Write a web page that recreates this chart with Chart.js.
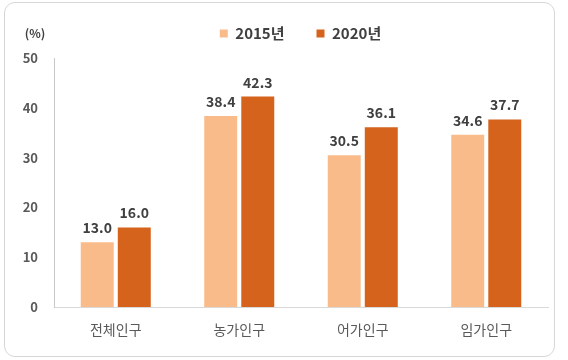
<!DOCTYPE html>
<html>
<head>
<meta charset="utf-8">
<script src="https://cdn.jsdelivr.net/npm/chart.js@4/dist/chart.umd.min.js"></script>
<style>
  html, body { margin: 0; padding: 0; background: #ffffff; }
  #wrap { position: relative; width: 568px; height: 360px; }
  #frame { position: absolute; left: 4px; top: 2px; width: 549px; height: 353px;
           border: 1.5px solid #d6d6d6; border-radius: 11px; box-sizing: content-box; pointer-events: none; }
  canvas { position: absolute; left: 0; top: 0; }
</style>
</head>
<body>
<div id="wrap">
  <canvas id="c" width="568" height="360"></canvas>
  <div id="frame"></div>
</div>
<script>
const categories = ['전체인구', '농가인구', '어가인구', '임가인구'];
const seriesNames = ['2015년', '2020년'];
const values2015 = [13.0, 38.4, 30.5, 34.6];
const values2020 = [16.0, 42.3, 36.1, 37.7];
const yTicks = [0, 10, 20, 30, 40, 50];
const unitLabel = '(%)';

const FONT = "'Noto Sans CJK KR', 'Noto Sans', sans-serif";

const valueLabels = {
  id: 'valueLabels',
  afterDatasetsDraw(chart) {
    const ctx = chart.ctx;
    ctx.save();
    ctx.font = 'bold 14px ' + FONT;
    ctx.fillStyle = '#404040';
    ctx.textAlign = 'center';
    ctx.textBaseline = 'alphabetic';
    chart.data.datasets.forEach((ds, i) => {
      const meta = chart.getDatasetMeta(i);
      meta.data.forEach((bar, j) => {
        ctx.fillText(ds.data[j].toFixed(1), bar.x, bar.y - 9);
      });
    });
    ctx.restore();
  }
};

const unitText = {
  id: 'unitText',
  afterDraw(chart) {
    const ctx = chart.ctx;
    ctx.save();
    ctx.font = 'bold 12px ' + FONT;
    ctx.fillStyle = '#404040';
    ctx.textAlign = 'center';
    ctx.textBaseline = 'middle';
    ctx.fillText(unitLabel, 35, 33);
    ctx.restore();
  }
};

// centre the legend over the same span as the reference
const legendShift = {
  id: 'legendShift',
  afterLayout(chart) {
    if (chart.legend) { chart.legend.left = 53; }
  }
};

new Chart(document.getElementById('c'), {
  type: 'bar',
  data: {
    labels: categories,
    datasets: [
      { label: seriesNames[0], data: values2015, backgroundColor: '#FABB8B',
        categoryPercentage: 0.6, barPercentage: 0.89 },
      { label: seriesNames[1], data: values2020, backgroundColor: '#D5631C',
        categoryPercentage: 0.6, barPercentage: 0.89 }
    ]
  },
  options: {
    responsive: false,
    animation: false,
    layout: { padding: { left: 10, right: 20, top: -6, bottom: 0 } },
    plugins: {
      legend: {
        display: true,
        position: 'top',
        labels: {
          boxWidth: 8, boxHeight: 8, padding: 32,
          color: '#404040',
          font: { family: FONT, size: 15, weight: 'bold' }
        }
      },
      title: {
        display: true, text: ' ', weight: 500, padding: 0,
        font: { size: 6 }
      },
      tooltip: { enabled: false }
    },
    scales: {
      x: {
        grid: { display: false, drawTicks: false },
        border: { display: true, color: '#d9d9d9', width: 1 },
        ticks: { color: '#595959', padding: 14, font: { family: FONT, size: 14 } },
        afterFit(scale) { scale.height = 53; }
      },
      y: {
        min: 0, max: 50,
        afterBuildTicks(scale) { scale.ticks = yTicks.map(v => ({ value: v })); },
        grid: { display: false, drawTicks: false },
        border: { display: true, color: '#c8c8c8', width: 1 },
        ticks: { color: '#595959', padding: 16, font: { family: FONT, size: 13, weight: 'bold' } },
        afterFit(scale) { scale.width = 44; }
      }
    }
  },
  plugins: [valueLabels, unitText, legendShift]
});
</script>
</body>
</html>
